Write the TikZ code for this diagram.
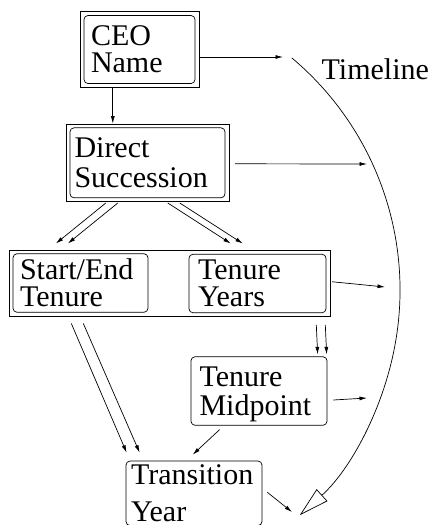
\documentclass[tikz,border=0pt]{standalone}
\usepackage{fontspec}
\setmainfont{Liberation Serif}
\usetikzlibrary{arrows.meta,fit,calc}
\begin{document}
\begin{tikzpicture}[x=1pt,y=-1pt,
  box/.style={draw, rounded corners=4pt, line width=0.7pt, align=left, inner ysep=0pt, anchor=center},
  bsk/.style={font=\fontsize{30}{#1}\selectfont},
  frame/.style={draw, line width=0.7pt, inner sep=3.5pt},
  conn/.style={line width=0.7pt, -{Latex[length=7.5pt,width=4pt]}},
  tl/.style={line width=0.7pt, -{Triangle[open,length=30pt,width=16pt]}},
]
\useasboundingbox[fill=white] (0,0) rectangle (433,525);
% boxes
\node[box, bsk=27, inner xsep=7pt, text width=97pt, minimum height=68pt] (ceo) at (139.5,49.5) {CEO\\Name};
\node[box, bsk=30, inner xsep=4.5pt, text width=146pt, minimum height=70pt] (ds) at (147.5,162.8) {Direct\\Succession};
\node[box, bsk=27, inner xsep=7pt, text width=121pt, minimum height=58.5pt] (se) at (80.5,283) {Start/End\\Tenure};
\node[box, bsk=27, inner xsep=9pt, text width=119pt, minimum height=58.5pt] (ty) at (257.5,283.5) {Tenure\\Years};
\node[box, bsk=29, inner xsep=8.5pt, text width=119pt, minimum height=68.5pt] (mid) at (259,391) {Tenure\\\raisebox{0pt}[\height][0pt]{Midpoint}};
\node[box, bsk=37, inner xsep=5pt, text width=126pt, minimum height=64.5pt] (tr) at (194,493.3) {Transition\\Year};
\node[frame, fit=(ceo)] (ceoO) {};
\node[frame, fit=(ds)] (dsO) {};
\node[frame, fit=(se)(ty)] (big) {};
% timeline
\node[anchor=base west, inner sep=0pt, bsk=30] (tlabel) at (321.5,79.5) {Timeline};
\coordinate (a0) at (291.8,57.9);
\draw[tl] (a0) arc[start angle=-50, end angle=48, radius=303];
\coordinate (t1) at (283,57);
\coordinate (t2) at (367,164);
\coordinate (t3) at (385,287);
\coordinate (t4) at (367,398);
\coordinate (t5) at (292,512);
% connectors
\draw[conn] (ceoO.east |- t1) -- (t1);
\draw[conn] ($(ceoO.south west)+(33,0)$) -- ($(dsO.north west)+(47,0)$);
\draw[conn] ($(dsO.east)+(6,1)$) -- (t2);
\draw[conn] ($(dsO.south west)+(40,1)$) -- ($(big.north west)+(47,-6)$);
\draw[conn] ($(dsO.south west)+(52,1)$) -- ($(big.north west)+(59,-6)$);
\draw[conn] ($(dsO.south west)+(102,1)$) -- ($(big.north west)+(222,-6)$);
\draw[conn] ($(dsO.south west)+(114,1)$) -- ($(big.north west)+(234,-6)$);
\draw[conn] ($(big.east)+(2,-1.5)$) -- (t3);
\draw[conn] ($(big.south west)+(307.5,8)$) -- ($(mid.north west)+(127,-2)$);
\draw[conn] ($(big.south west)+(316.5,8)$) -- ($(mid.north west)+(136,-2)$);
\draw[conn] ($(big.south west)+(62.5,6.5)$) -- ($(tr.north west)+(1,-8)$);
\draw[conn] ($(big.south west)+(74.5,6.5)$) -- ($(tr.north west)+(14,-8)$);
\draw[conn] ($(mid.south west)+(29,4)$) -- ($(tr.north west)+(67,-6)$);
\draw[conn] ($(mid.east)+(6,9)$) -- (t4);
\draw[conn] ($(tr.east)+(5,-1)$) -- (t5);
\end{tikzpicture}
\end{document}
